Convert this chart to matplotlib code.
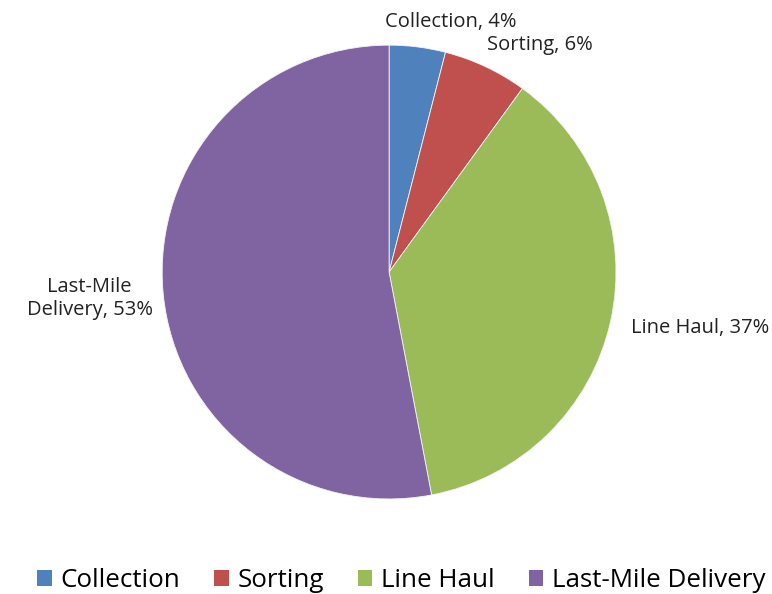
import matplotlib.pyplot as plt
from matplotlib.patches import Patch

# data
stages = ['Collection', 'Sorting', 'Line Haul', 'Last-Mile Delivery']
shares = [4, 6, 37, 53]
slice_labels = ['Collection, 4%', 'Sorting, 6%', 'Line Haul, 37%', 'Last-Mile\nDelivery, 53%']
colors = ['#4F81BD', '#C0504D', '#9BBB59', '#8064A2']

# label spots (in pie radius units)
label_pos = [(0.27, 1.10), (0.665, 1.0), (1.37, -0.247), (-1.32, -0.115)]

plt.rcParams['font.family'] = ['Open Sans', 'DejaVu Sans']

fig = plt.figure(figsize=(7.72, 5.94), dpi=100)
ax = fig.add_axes([0.210, 0.160, 0.588, 0.764])
ax.pie(shares, colors=colors, startangle=90, counterclock=False,
       wedgeprops={'linewidth': 0.6, 'edgecolor': '#f4f4f4'})
ax.set_xlim(-1, 1)
ax.set_ylim(-1, 1)
ax.set_aspect('equal')

for lab, (x, y) in zip(slice_labels, label_pos):
    ax.text(x, y, lab, ha='center', va='center', fontsize=14.5, color='#222222',
            clip_on=False, linespacing=1.2)

handles = [Patch(facecolor=c, label=s) for c, s in zip(colors, stages)]
fig.legend(handles=handles, loc='center', bbox_to_anchor=(0.52, 0.022), ncol=4,
           frameon=False, fontsize=18.7, handlelength=0.55, handleheight=0.55,
           handletextpad=0.35, columnspacing=1.3)

fig.savefig('out.png', dpi=100)
